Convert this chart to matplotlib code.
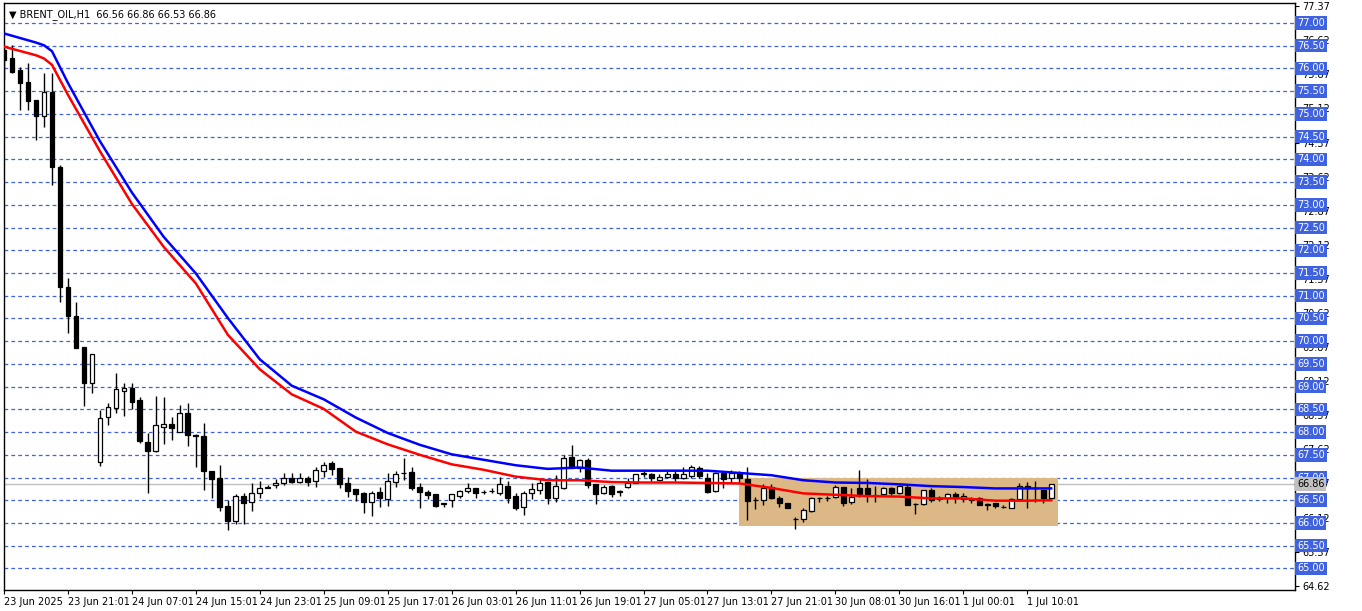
import matplotlib
matplotlib.use("Agg")
import matplotlib.pyplot as plt
import matplotlib.transforms as mtransforms
import numpy as np

opens = [76.41,76.23,75.97,75.70,75.31,74.95,75.48,73.83,71.19,70.55,69.87,69.08,67.34,68.33,68.53,68.90,68.97,68.70,67.78,67.58,68.12,68.18,68.00,68.42,67.93,67.91,67.14,67.00,66.37,66.04,66.60,
         66.47,66.66,66.77,66.83,66.89,66.98,66.90,66.98,66.93,67.15,67.31,67.22,66.87,66.74,66.66,66.47,66.69,66.53,66.91,67.09,67.12,66.80,66.69,66.63,66.42,66.50,66.60,66.71,66.76,
         66.68,66.70,66.66,66.82,66.60,66.36,66.66,66.72,66.91,66.54,66.78,67.45,67.22,67.39,66.85,66.66,66.82,66.69,66.80,66.89,67.08,67.07,66.94,67.01,67.07,66.99,67.03,67.22,67.00,66.71,67.11,66.98,67.11,
         66.97,66.51,66.50,66.79,66.55,66.43,66.09,66.08,66.27,66.54,66.54,66.57,66.79,66.46,66.77,66.77,66.61,66.63,66.76,66.67,66.79,66.41,66.41,66.72,66.55,66.54,66.63,66.52,66.52,66.54,66.40,66.43,66.36,66.34,66.52,66.81,66.76,66.72,66.56]
highs = [76.45,76.52,76.03,76.12,75.30,75.90,75.90,73.88,71.39,70.87,69.87,69.72,68.49,68.64,69.30,69.08,69.08,68.77,67.98,68.79,68.77,68.34,68.60,68.65,67.95,68.20,67.14,67.27,66.50,66.64,66.66,
         66.88,66.92,66.83,66.96,67.11,67.11,67.11,67.04,67.23,67.34,67.37,67.22,67.01,66.74,66.69,66.71,66.80,67.11,67.15,67.44,67.23,66.89,66.72,66.63,66.45,66.63,66.72,66.87,66.76,
         66.72,66.76,67.01,66.92,66.65,66.70,66.87,66.98,66.91,67.05,67.49,67.72,67.40,67.43,66.85,66.83,66.83,66.72,66.98,67.08,67.16,67.09,67.07,67.14,67.16,67.23,67.27,67.25,67.09,67.12,67.12,67.16,67.14,
         67.23,66.57,66.86,66.86,66.59,66.44,66.14,66.32,66.57,66.57,66.59,66.83,66.79,66.77,67.16,66.97,66.81,66.79,66.79,66.83,66.83,66.44,66.73,66.77,66.60,66.65,66.68,66.66,66.57,66.57,66.43,66.43,66.39,66.54,66.88,66.90,66.92,66.72,66.86]
lows = [75.75,75.90,75.09,75.09,74.43,74.71,73.44,70.86,70.18,69.85,68.57,68.86,67.25,68.15,68.42,68.35,68.50,67.76,66.66,67.56,67.74,67.82,68.00,67.70,67.23,66.73,66.55,66.26,65.85,65.98,65.98,
        66.26,66.55,66.76,66.77,66.83,66.87,66.87,66.82,66.79,67.01,67.05,66.77,66.58,66.48,66.21,66.15,66.35,66.38,66.80,66.94,66.72,66.32,66.53,66.36,66.36,66.36,66.55,66.67,66.55,
        66.64,66.65,66.61,66.45,66.28,66.18,66.52,66.64,66.41,66.47,66.74,67.21,67.12,66.77,66.42,66.63,66.58,66.59,66.78,66.88,67.01,66.92,66.92,66.98,66.92,66.96,66.98,67.00,66.67,66.69,66.76,66.89,66.90,
        66.06,66.30,66.39,66.52,66.35,66.33,65.87,66.03,66.25,66.46,66.48,66.55,66.37,66.41,66.57,66.46,66.46,66.61,66.62,66.63,66.39,66.19,66.39,66.46,66.48,66.44,66.44,66.46,66.45,66.39,66.28,66.32,66.33,66.34,66.51,66.32,66.46,66.45,66.53]
closes = [76.19,75.92,75.68,75.28,74.95,75.48,73.83,71.19,70.55,69.85,69.08,69.72,68.31,68.55,68.95,68.97,68.66,67.80,67.58,68.15,68.18,68.08,68.42,67.93,67.91,67.14,66.97,66.35,66.04,66.60,66.45,
          66.66,66.77,66.78,66.89,66.98,66.90,66.98,66.91,67.17,67.28,67.18,66.85,66.70,66.64,66.47,66.66,66.54,66.93,67.07,67.10,66.78,66.69,66.61,66.38,66.43,66.63,66.70,66.76,66.66,
          66.69,66.71,66.85,66.55,66.32,66.66,66.74,66.89,66.54,66.82,67.43,67.21,67.38,66.83,66.64,66.80,66.64,66.69,66.89,67.07,67.09,66.98,67.01,67.07,66.98,67.07,67.23,67.03,66.69,67.11,66.96,67.11,66.98,
          66.49,66.50,66.77,66.55,66.44,66.34,66.08,66.28,66.55,66.54,66.56,66.79,66.45,66.57,66.63,66.63,66.61,66.76,66.67,66.81,66.39,66.41,66.72,66.50,66.53,66.63,66.55,66.59,66.51,66.39,66.40,66.37,66.35,66.52,66.81,66.76,66.76,66.54,66.86]

# moving-average lines at selected candles
ma_index = [0, 4, 5, 6, 8, 12, 16, 20, 24, 28, 32, 36, 40, 44, 48, 52, 56, 60, 64, 68, 72, 76, 80, 84, 88, 92,
            96, 100, 104, 108, 112, 116, 120, 124, 128, 131]
ma_blue = [76.77, 76.57, 76.51, 76.38, 75.68, 74.40, 73.27, 72.29, 71.49, 70.51, 69.60, 69.02, 68.72, 68.32,
           67.98, 67.72, 67.51, 67.39, 67.27, 67.19, 67.22, 67.15, 67.15, 67.15, 67.15, 67.10,
           67.05, 66.94, 66.89, 66.88, 66.85, 66.81, 66.79, 66.76, 66.76, 66.76]
ma_red = [76.48, 76.29, 76.22, 76.08, 75.42, 74.18, 73.02, 72.07, 71.27, 70.14, 69.38, 68.83, 68.51, 68.01,
          67.73, 67.50, 67.29, 67.17, 67.02, 66.94, 66.94, 66.90, 66.89, 66.89, 66.88, 66.87,
          66.77, 66.65, 66.62, 66.59, 66.58, 66.54, 66.54, 66.49, 66.49, 66.50]

time_labels = ["23 Jun 2025","23 Jun 21:01","24 Jun 07:01","24 Jun 15:01","24 Jun 23:01","25 Jun 09:01",
               "25 Jun 17:01","26 Jun 03:01","26 Jun 11:01","26 Jun 19:01","27 Jun 05:01","27 Jun 13:01",
               "27 Jun 21:01","30 Jun 08:01","30 Jun 16:01","1 Jul 00:01","1 Jul 10:01"]
grid_levels = [65.0 + 0.5 * k for k in range(25)]
scale_labels = [77.37 - 0.75 * k for k in range(18)]
box_top, box_bottom = 67.0, 65.93
bid = 66.86
title = "BRENT_OIL,H1  66.56 66.86 66.53 66.86"

o, h, l, c = map(np.array, (opens, highs, lows, closes))
n = len(c)
idx = np.arange(n)

W, H = 1362, 611
fig = plt.figure(figsize=(W / 100, H / 100), dpi=100)
ax = fig.add_axes([4 / W, 1 - 590 / H, (1295 - 4) / W, (590 - 3) / H])
ax.set_xlim(0.125, 161.5)
ax.set_ylim(64.525, 77.44)

for lv in grid_levels:
    ax.axhline(lv, color="#3f63e0", lw=0.9, ls=(0, (3, 2.5)), zorder=1)

ax.axhline(bid, color="#c0c0c0", lw=1.0, zorder=1.2)

ax.add_patch(plt.Rectangle((92, box_bottom), 131.85 - 92, box_top - box_bottom,
                           facecolor="#ddb887", edgecolor="none", zorder=1.5))

ax.vlines(idx, l, h, color="black", lw=1.0, zorder=3)
bull = c >= o
bot = np.minimum(o, c)
hgt_draw = np.maximum(np.abs(c - o), 0.012)
ax.bar(idx[bull], hgt_draw[bull], bottom=bot[bull], width=0.6, color="white",
       edgecolor="black", linewidth=0.9, zorder=4)
ax.bar(idx[~bull], hgt_draw[~bull], bottom=bot[~bull], width=0.6, color="black",
       edgecolor="black", linewidth=0.9, zorder=4)

ax.plot(ma_index, ma_blue, color="#0000ff", lw=1.8, zorder=5)
ax.plot(ma_index, ma_red, color="#ff0000", lw=1.8, zorder=5)

for s in ax.spines.values():
    s.set_color("black"); s.set_linewidth(1.0)

ax.set_xticks(np.arange(0, n, 8))
ax.set_xticklabels(time_labels, fontsize=7, ha="left")
ax.tick_params(axis="x", length=3, pad=2, width=0.8)
ax.yaxis.tick_right()
ax.set_yticks(scale_labels)
ax.set_yticklabels([f"{v:.2f}" for v in scale_labels], fontsize=7)
ax.tick_params(axis="y", length=3, pad=2, width=0.8)

tr = mtransforms.blended_transform_factory(ax.transAxes, ax.transData)
for lv in grid_levels:
    ax.text(1.0017, lv, f"{lv:.2f}", transform=tr, fontsize=7, color="white", va="center",
            ha="left", clip_on=False, zorder=6,
            bbox=dict(boxstyle="square,pad=0.18", facecolor="#3f63e0", edgecolor="none"))
ax.text(1.0017, bid, f"{bid:.2f}", transform=tr, fontsize=7, color="black", va="center",
        ha="left", clip_on=False, zorder=6,
        bbox=dict(boxstyle="square,pad=0.18", facecolor="#c0c0c0", edgecolor="none"))

ax.text(0.004, 0.99, "\u25bc " + title, transform=ax.transAxes, fontsize=7, va="top", ha="left", zorder=7)

fig.savefig("out.png", dpi=100)
